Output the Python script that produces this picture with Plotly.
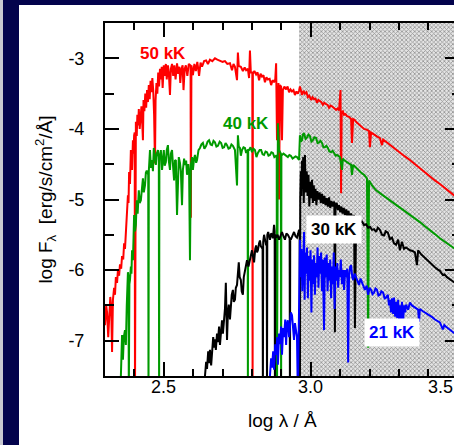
import plotly.graph_objects as go

# ---- data: log wavelength (Angstrom) vs log flux ----
RED_50KK = [
    (2.300, -6.78), (2.304, -6.50), (2.307, -6.60), (2.311, -6.95), (2.314, -6.70), (2.318, -6.38),
    (2.321, -6.52), (2.324, -7.16), (2.327, -6.42), (2.331, -6.25), (2.334, -6.35), (2.337, -6.10),
    (2.341, -6.18), (2.344, -6.00), (2.348, -6.08), (2.351, -5.92), (2.355, -5.98), (2.358, -5.80),
    (2.362, -5.85), (2.365, -5.62), (2.368, -5.70), (2.371, -5.50), (2.375, -5.29), (2.378, -4.94),
    (2.380, -5.05), (2.382, -4.61), (2.385, -4.78), (2.388, -4.30), (2.390, -4.45), (2.392, -4.58),
    (2.395, -4.16), (2.397, -4.35), (2.399, -4.09), (2.401, -4.05), (2.402, -7.8), (2.403, -4.05),
    (2.405, -3.90), (2.408, -4.10), (2.410, -3.80), (2.413, -3.95), (2.415, -3.72), (2.418, -4.00),
    (2.421, -3.78), (2.424, -3.68), (2.426, -3.85), (2.429, -4.16), (2.431, -3.59), (2.434, -3.75),
    (2.437, -3.50), (2.440, -3.70), (2.443, -3.45), (2.446, -3.62), (2.449, -3.38), (2.452, -3.58),
    (2.455, -3.32), (2.458, -3.48), (2.461, -3.28), (2.464, -3.45), (2.467, -3.80), (2.470, -4.49),
    (2.472, -3.60), (2.475, -3.35), (2.478, -3.50), (2.481, -3.20), (2.484, -3.40), (2.487, -3.15),
    (2.490, -3.30), (2.493, -3.12), (2.496, -3.42), (2.500, -3.10), (2.503, -3.25), (2.507, -3.08),
    (2.510, -3.30), (2.514, -3.10), (2.517, -3.20), (2.521, -3.52), (2.524, -3.15), (2.528, -3.08),
    (2.532, -3.25), (2.536, -3.10), (2.540, -3.30), (2.545, -3.07), (2.549, -3.22), (2.553, -3.12),
    (2.556, -3.35), (2.560, -3.15), (2.564, -3.10), (2.567, -3.45), (2.571, -3.15), (2.575, -3.10),
    (2.580, -3.25), (2.585, -3.08), (2.591, -3.10), (2.592, -5.26), (2.594, -3.10), (2.599, -3.24),
    (2.604, -3.08), (2.609, -3.18), (2.614, -3.05), (2.620, -3.25), (2.625, -3.06), (2.630, -3.12),
    (2.637, -3.04), (2.644, -3.03), (2.650, -3.08), (2.657, -3.02), (2.665, -3.04), (2.674, -3.00),
    (2.682, -3.02), (2.691, -3.03), (2.700, -3.05), (2.708, -3.04), (2.716, -3.08), (2.725, -3.07),
    (2.732, -3.17), (2.737, -3.08), (2.742, -3.12), (2.749, -3.31), (2.752, -2.92), (2.755, -3.11),
    (2.762, -3.12), (2.769, -3.18), (2.775, -3.13), (2.780, -3.17), (2.786, -3.15), (2.790, -3.28),
    (2.793, -2.89), (2.796, -3.20), (2.801, -3.20), (2.802, -7.8), (2.803, -3.22), (2.808, -3.18),
    (2.814, -3.23), (2.819, -3.20), (2.824, -3.31), (2.829, -3.22), (2.834, -3.26), (2.839, -3.24),
    (2.844, -3.34), (2.849, -3.27), (2.854, -3.30), (2.860, -3.29), (2.865, -3.38), (2.870, -3.31),
    (2.875, -3.34), (2.879, -3.30), (2.882, -3.07), (2.885, -4.16), (2.888, -3.45), (2.890, -3.35),
    (2.892, -5.00), (2.895, -3.38), (2.899, -3.40), (2.902, -4.16), (2.905, -3.45), (2.910, -3.40),
    (2.916, -3.44), (2.921, -3.40), (2.926, -3.48), (2.931, -3.44), (2.936, -3.47), (2.941, -3.45),
    (2.946, -3.52), (2.951, -3.47), (2.956, -3.50), (2.960, -3.46), (2.963, -3.40), (2.966, -3.48),
    (2.970, -3.52), (2.975, -3.46), (2.980, -3.50), (2.985, -3.48), (2.990, -3.55), (2.995, -3.53),
    (3.001, -3.59), (3.006, -3.55), (3.011, -3.58), (3.016, -3.57), (3.021, -3.63), (3.026, -3.59),
    (3.031, -3.61), (3.036, -3.62), (3.041, -3.66), (3.046, -3.63), (3.052, -3.65), (3.057, -3.66),
    (3.062, -3.70), (3.067, -3.67), (3.072, -3.68), (3.079, -3.70), (3.086, -3.73), (3.091, -3.71),
    (3.096, -3.74), (3.101, -3.45), (3.103, -4.91), (3.105, -3.76), (3.109, -3.75), (3.113, -3.80),
    (3.118, -3.79), (3.123, -3.82), (3.130, -3.83), (3.137, -3.86), (3.140, -4.20), (3.144, -3.86),
    (3.149, -3.87), (3.154, -3.90), (3.160, -3.92), (3.167, -3.95), (3.174, -3.97), (3.181, -4.00),
    (3.190, -4.01), (3.198, -4.03), (3.201, -4.26), (3.205, -4.05), (3.212, -4.07), (3.218, -4.09),
    (3.226, -4.11), (3.235, -4.13), (3.242, -4.23), (3.246, -4.15), (3.258, -4.19), (3.269, -4.23),
    (3.286, -4.29), (3.303, -4.34), (3.320, -4.39), (3.337, -4.44), (3.354, -4.50), (3.371, -4.56),
    (3.388, -4.62), (3.405, -4.67), (3.422, -4.73), (3.439, -4.78), (3.463, -4.86), (3.487, -4.94),
    (3.510, -4.98),
]

GREEN_40KK = [
    (2.354, -7.50), (2.358, -6.92), (2.361, -7.27), (2.364, -6.95), (2.368, -6.85), (2.371, -7.06),
    (2.374, -6.50), (2.378, -6.03), (2.380, -6.10), (2.381, -7.8), (2.383, -6.20), (2.385, -6.14),
    (2.388, -5.95), (2.390, -6.05), (2.392, -5.72), (2.395, -5.86), (2.397, -5.55), (2.399, -5.22),
    (2.402, -5.45), (2.405, -5.36), (2.408, -5.01), (2.411, -5.20), (2.415, -4.87), (2.418, -5.05),
    (2.422, -5.01), (2.425, -4.85), (2.429, -4.70), (2.432, -4.90), (2.436, -4.80), (2.439, -4.62),
    (2.442, -4.59), (2.447, -4.65), (2.448, -7.8), (2.449, -4.60), (2.453, -4.30), (2.456, -4.55),
    (2.460, -4.44), (2.463, -4.60), (2.466, -4.27), (2.470, -4.45), (2.473, -4.51), (2.476, -4.35),
    (2.480, -4.30), (2.483, -4.40), (2.484, -7.8), (2.485, -4.40), (2.487, -4.41), (2.490, -4.30),
    (2.494, -4.58), (2.497, -4.40), (2.500, -4.30), (2.503, -4.52), (2.507, -4.47), (2.510, -4.30),
    (2.514, -4.23), (2.517, -4.45), (2.521, -4.58), (2.524, -4.35), (2.528, -4.30), (2.531, -4.50),
    (2.535, -4.73), (2.538, -4.45), (2.541, -4.44), (2.545, -5.22), (2.548, -4.58), (2.551, -4.40),
    (2.555, -4.48), (2.558, -4.60), (2.562, -5.08), (2.565, -4.58), (2.569, -4.42), (2.572, -4.51),
    (2.576, -4.45), (2.579, -4.65), (2.583, -4.50), (2.586, -4.60), (2.589, -5.86), (2.592, -4.51),
    (2.596, -4.40), (2.599, -4.58), (2.603, -4.42), (2.606, -4.37), (2.610, -4.48), (2.613, -4.44),
    (2.618, -4.30), (2.623, -4.27), (2.628, -4.22), (2.633, -4.20), (2.638, -4.28), (2.644, -4.24),
    (2.649, -4.18), (2.654, -4.16), (2.659, -4.22), (2.664, -4.23), (2.669, -4.17), (2.674, -4.19),
    (2.679, -4.25), (2.684, -4.24), (2.690, -4.18), (2.695, -4.20), (2.700, -4.27), (2.705, -4.26),
    (2.710, -4.20), (2.715, -4.23), (2.720, -4.28), (2.725, -4.27), (2.730, -4.22), (2.735, -4.24),
    (2.742, -4.30), (2.749, -4.80), (2.752, -4.09), (2.755, -4.25), (2.759, -4.27), (2.762, -4.38),
    (2.766, -4.30), (2.771, -4.26), (2.776, -4.27), (2.780, -4.34), (2.785, -4.30), (2.786, -7.8),
    (2.787, -4.30), (2.790, -4.30), (2.795, -4.26), (2.800, -4.33), (2.805, -4.28), (2.810, -4.30),
    (2.815, -4.40), (2.820, -4.34), (2.826, -4.30), (2.831, -4.30), (2.836, -4.36), (2.841, -4.37),
    (2.846, -4.32), (2.851, -4.33), (2.856, -4.38), (2.861, -4.37), (2.866, -4.33), (2.871, -4.34),
    (2.876, -4.40), (2.882, -4.38), (2.884, -4.38), (2.885, -7.8), (2.886, -4.38), (2.888, -3.92),
    (2.892, -4.30), (2.898, -4.35), (2.899, -7.8), (2.900, -4.36), (2.902, -4.37), (2.907, -4.35),
    (2.912, -4.37), (2.917, -4.38), (2.922, -4.40), (2.927, -4.37), (2.932, -4.38), (2.938, -4.42),
    (2.943, -4.41), (2.948, -4.39), (2.953, -4.40), (2.960, -4.44), (2.963, -4.09), (2.966, -4.18),
    (2.970, -4.16), (2.973, -4.08), (2.977, -4.06), (2.982, -4.14), (2.987, -4.12), (2.992, -4.08),
    (2.997, -4.10), (3.002, -4.18), (3.007, -4.16), (3.012, -4.12), (3.018, -4.13), (3.023, -4.20),
    (3.028, -4.19), (3.033, -4.17), (3.038, -4.20), (3.043, -4.26), (3.048, -4.26), (3.053, -4.24),
    (3.058, -4.27), (3.063, -4.32), (3.069, -4.33), (3.074, -4.31), (3.079, -4.34), (3.084, -4.38),
    (3.089, -4.37), (3.094, -4.38), (3.099, -4.40), (3.106, -4.58), (3.109, -4.42), (3.113, -4.44),
    (3.118, -4.46), (3.123, -4.47), (3.130, -4.49), (3.137, -4.51), (3.140, -4.65), (3.144, -4.51),
    (3.149, -4.53), (3.154, -4.55), (3.160, -4.58), (3.167, -4.61), (3.174, -4.63), (3.181, -4.65),
    (3.191, -4.70), (3.195, -7.10), (3.198, -4.73), (3.208, -4.80), (3.215, -4.83), (3.222, -4.87),
    (3.235, -4.91), (3.252, -4.96), (3.269, -5.01), (3.286, -5.07), (3.303, -5.12), (3.320, -5.17),
    (3.337, -5.22), (3.354, -5.27), (3.371, -5.32), (3.388, -5.38), (3.405, -5.43), (3.422, -5.49),
    (3.439, -5.55), (3.463, -5.62), (3.487, -5.69), (3.510, -5.73),
]

BLACK_30KK = [
    (2.640, -7.50), (2.644, -7.30), (2.647, -7.40), (2.651, -7.15), (2.654, -7.32), (2.657, -7.13),
    (2.661, -7.35), (2.664, -7.20), (2.668, -6.95), (2.671, -7.10), (2.674, -6.98), (2.677, -7.13),
    (2.681, -6.90), (2.684, -7.02), (2.688, -6.80), (2.691, -7.06), (2.695, -6.85), (2.698, -6.71),
    (2.701, -6.90), (2.705, -6.75), (2.708, -6.55), (2.711, -6.18), (2.713, -6.70), (2.715, -6.99),
    (2.718, -6.60), (2.721, -6.49), (2.725, -6.70), (2.728, -6.55), (2.731, -6.35), (2.735, -6.28),
    (2.738, -6.45), (2.742, -6.42), (2.745, -6.25), (2.749, -6.21), (2.752, -6.05), (2.755, -5.89),
    (2.758, -6.10), (2.762, -6.14), (2.765, -6.30), (2.769, -6.35), (2.772, -6.10), (2.776, -6.00),
    (2.779, -5.92), (2.783, -5.86), (2.788, -5.95), (2.793, -5.84), (2.797, -5.78), (2.800, -5.72),
    (2.804, -5.82), (2.807, -5.89), (2.811, -5.70), (2.814, -5.65), (2.817, -5.75), (2.820, -5.72),
    (2.824, -5.62), (2.827, -5.58), (2.830, -5.66), (2.834, -5.69), (2.836, -5.70), (2.837, -7.8),
    (2.838, -5.60), (2.841, -5.50), (2.845, -5.60), (2.848, -5.65), (2.850, -5.60), (2.851, -7.8),
    (2.852, -5.50), (2.855, -5.46), (2.858, -5.55), (2.861, -5.57), (2.865, -5.48), (2.868, -5.50),
    (2.871, -5.55), (2.875, -5.36), (2.877, -5.45), (2.878, -7.8), (2.879, -5.50), (2.882, -5.54),
    (2.887, -5.50), (2.892, -5.57), (2.897, -5.50), (2.902, -5.46), (2.907, -5.52), (2.912, -5.57),
    (2.917, -5.48), (2.922, -5.50), (2.928, -5.55), (2.929, -7.8), (2.930, -5.55), (2.932, -5.57),
    (2.938, -5.50), (2.943, -5.46), (2.948, -5.52), (2.953, -5.54), (2.957, -5.48), (2.960, -5.43),
    (2.962, -5.50), (2.963, -7.8), (2.964, -5.00), (2.966, -4.60), (2.968, -4.95), (2.970, -4.45),
    (2.972, -4.85), (2.974, -4.40), (2.976, -5.05), (2.978, -4.55), (2.980, -4.37), (2.983, -4.90),
    (2.986, -4.60), (2.989, -4.95), (2.992, -4.65), (2.995, -5.10), (2.998, -4.75), (3.001, -4.98),
    (3.004, -4.72), (3.007, -5.05), (3.010, -4.80), (3.013, -5.02), (3.016, -4.85), (3.019, -5.08),
    (3.022, -4.88), (3.026, -5.00), (3.030, -4.90), (3.034, -5.05), (3.038, -4.92), (3.042, -5.06),
    (3.046, -4.95), (3.050, -5.08), (3.054, -4.98), (3.058, -5.10), (3.062, -4.97), (3.066, -5.12),
    (3.070, -5.02), (3.074, -5.10), (3.078, -5.03), (3.080, -5.05), (3.082, -6.88), (3.084, -5.08),
    (3.088, -5.05), (3.092, -5.15), (3.096, -5.08), (3.100, -5.18), (3.104, -5.10), (3.108, -5.20),
    (3.112, -5.12), (3.116, -5.22), (3.120, -5.14), (3.124, -5.24), (3.128, -5.16), (3.132, -5.26),
    (3.137, -5.20), (3.142, -5.27), (3.147, -5.22), (3.150, -6.82), (3.154, -5.29), (3.160, -5.28),
    (3.167, -5.32), (3.174, -5.31), (3.181, -5.36), (3.188, -5.35), (3.195, -5.40), (3.202, -5.39),
    (3.208, -5.43), (3.215, -5.42), (3.222, -5.46), (3.228, -5.40), (3.235, -5.43), (3.242, -5.50),
    (3.249, -5.51), (3.255, -5.45), (3.262, -5.47), (3.269, -5.56), (3.276, -5.54), (3.283, -5.62),
    (3.290, -5.64), (3.297, -5.57), (3.303, -5.72), (3.310, -5.60), (3.317, -5.70), (3.324, -5.68),
    (3.331, -5.70), (3.337, -5.72), (3.346, -5.73), (3.354, -5.75), (3.361, -5.93), (3.365, -5.72),
    (3.376, -5.78), (3.388, -5.83), (3.396, -5.86), (3.405, -5.89), (3.414, -5.93), (3.422, -5.96),
    (3.431, -5.99), (3.439, -6.01), (3.449, -6.07), (3.455, -6.06), (3.463, -6.10), (3.475, -6.13),
    (3.487, -6.17), (3.510, -6.21),
]

BLUE_21KK = [
    (2.861, -7.50), (2.865, -7.25), (2.868, -7.38), (2.872, -7.15), (2.875, -7.41), (2.879, -7.05),
    (2.882, -7.20), (2.886, -6.95), (2.888, -7.34), (2.892, -6.90), (2.895, -7.05), (2.899, -6.80),
    (2.902, -7.20), (2.906, -6.82), (2.909, -6.95), (2.913, -6.70), (2.916, -7.06), (2.919, -6.75),
    (2.922, -6.71), (2.926, -6.95), (2.929, -6.80), (2.932, -6.60), (2.936, -6.64), (2.939, -6.85),
    (2.943, -6.99), (2.946, -6.75), (2.950, -6.85), (2.953, -6.95), (2.956, -7.8), (2.960, -6.40),
    (2.963, -5.57), (2.966, -6.10), (2.968, -5.70), (2.971, -6.30), (2.974, -5.60), (2.977, -5.46),
    (2.979, -6.42), (2.981, -5.75), (2.984, -6.05), (2.987, -5.68), (2.990, -6.40), (2.993, -5.80),
    (2.996, -6.15), (2.999, -5.72), (3.002, -6.60), (3.005, -5.85), (3.008, -6.20), (3.011, -5.79),
    (3.014, -6.35), (3.017, -5.90), (3.020, -6.10), (3.023, -5.68), (3.026, -6.25), (3.029, -5.80),
    (3.032, -6.05), (3.035, -5.75), (3.038, -6.30), (3.041, -5.85), (3.045, -6.85), (3.048, -5.82),
    (3.051, -6.10), (3.054, -5.78), (3.057, -6.30), (3.060, -5.90), (3.063, -6.15), (3.066, -5.85),
    (3.069, -6.40), (3.072, -5.95), (3.075, -6.20), (3.078, -5.75), (3.081, -6.55), (3.084, -5.95),
    (3.087, -6.15), (3.090, -5.90), (3.093, -6.25), (3.096, -6.00), (3.099, -6.10), (3.102, -5.85),
    (3.106, -6.20), (3.110, -6.00), (3.113, -6.28), (3.117, -6.00), (3.120, -6.10), (3.124, -5.98),
    (3.127, -7.31), (3.130, -6.07), (3.134, -5.95), (3.137, -5.93), (3.141, -6.10), (3.144, -6.14),
    (3.149, -6.05), (3.154, -6.11), (3.159, -6.18), (3.164, -6.21), (3.169, -6.12), (3.174, -6.18),
    (3.179, -6.25), (3.184, -6.28), (3.190, -6.22), (3.195, -6.35), (3.200, -6.25), (3.205, -6.28),
    (3.210, -6.34), (3.215, -6.32), (3.220, -6.26), (3.225, -6.28), (3.230, -6.36), (3.235, -6.35),
    (3.240, -6.30), (3.246, -6.32), (3.251, -6.40), (3.256, -6.39), (3.262, -6.35), (3.266, -6.50),
    (3.269, -6.42), (3.273, -6.60), (3.276, -6.40), (3.280, -6.62), (3.283, -6.39), (3.287, -6.66),
    (3.290, -6.45), (3.294, -6.68), (3.297, -6.42), (3.300, -6.72), (3.303, -6.50), (3.307, -6.74),
    (3.310, -6.45), (3.314, -6.73), (3.317, -6.50), (3.321, -6.60), (3.324, -6.49), (3.331, -6.56),
    (3.337, -6.46), (3.344, -6.50), (3.351, -6.52), (3.358, -6.54), (3.365, -6.56), (3.368, -6.73),
    (3.371, -6.55), (3.380, -6.58), (3.388, -6.60), (3.396, -6.62), (3.405, -6.64), (3.414, -6.67),
    (3.422, -6.70), (3.431, -6.72), (3.439, -6.74), (3.449, -6.84), (3.454, -6.78), (3.459, -6.80),
    (3.466, -6.82), (3.473, -6.84), (3.480, -6.86), (3.487, -6.89), (3.510, -6.93),
]

SERIES_NAMES = ["50 kK", "40 kK", "30 kK", "21 kK"]
SERIES_COLORS = ["#ff0000", "#009a00", "#000000", "#0000ff"]

LYMAN_LIMIT = 2.96          # log(912 A), start of the shaded ionizing region
X_RANGE = [2.3, 3.487]
Y_RANGE = [-7.5, -2.5]
X_TICKS = [2.5, 3.0, 3.5]
Y_TICKS = [-7, -6, -5, -4, -3]

# label positions (data coordinates)
LABEL_X = [2.497, 2.78, 3.079, 3.276]
LABEL_Y = [-2.93, -3.93, -5.43, -6.89]

NAVY = "#03034c"
FONT = "Liberation Sans, Arial, sans-serif"

W, H, L, T, B = 454, 445, 105, 23, 69
PW, PH = W - L, H - T - B

fig = go.Figure()

# shaded region beyond the Lyman limit
fig.add_trace(go.Scatter(
    x=[LYMAN_LIMIT, 3.6, 3.6, LYMAN_LIMIT, LYMAN_LIMIT],
    y=[Y_RANGE[1], Y_RANGE[1], Y_RANGE[0], Y_RANGE[0], Y_RANGE[1]],
    mode="lines", fill="toself", line=dict(width=0),
    fillcolor="#c8c8c8",
    fillpattern=dict(shape="x", size=3, solidity=0.45, fgcolor="#929292", bgcolor="#e4e4e4",
                     fillmode="replace"),
    hoverinfo="skip", showlegend=False,
))

for name, data, color in zip(SERIES_NAMES, [RED_50KK, GREEN_40KK, BLACK_30KK, BLUE_21KK], SERIES_COLORS):
    xs = [p[0] for p in data]
    ys = [p[1] for p in data]
    fig.add_trace(go.Scatter(x=xs, y=ys, mode="lines", name=name,
                             line=dict(color=color, width=2), showlegend=False))

# dummy trace to activate the right-side tick axis
fig.add_trace(go.Scatter(x=[None], y=[None], yaxis="y2", showlegend=False, hoverinfo="skip"))

for name, lx, ly, color in zip(SERIES_NAMES, LABEL_X, LABEL_Y, SERIES_COLORS):
    boxed = name in ("30 kK", "21 kK")
    fig.add_annotation(x=lx, y=ly, xref="x", yref="y", text=f"<b>{name}</b>", showarrow=False,
                       font=dict(family=FONT, size=17, color=color),
                       bgcolor="white" if boxed else "rgba(0,0,0,0)", borderpad=4)

# x tick labels (the 3.5 tick lies just past the visible edge, so its label is pulled inside)
for v in X_TICKS:
    if v <= X_RANGE[1]:
        fig.add_annotation(x=v, y=0, xref="x", yref="paper", text=f"{v:.1f}", showarrow=False,
                           yanchor="middle", yshift=-11, font=dict(family=FONT, size=18, color="black"))
    else:
        fig.add_annotation(x=1, y=0, xref="paper", yref="paper", text=f"{v:.1f}", showarrow=False,
                           xanchor="right", yanchor="middle", yshift=-11, xshift=1,
                           font=dict(family=FONT, size=18, color="black"))


def px_x(p):
    return (p - L) / PW


def px_y(p):
    return (H - B - p) / PH


# x axis title
fig.add_annotation(x=px_x(282), y=0, xref="paper", yref="paper", text="log λ / Å",
                   showarrow=False, yanchor="middle", yshift=-44,
                   font=dict(family=FONT, size=19, color="black"))

# navy frame on the left and top
fig.add_shape(type="rect", xref="paper", yref="paper", x0=px_x(0), x1=px_x(W), y0=px_y(0), y1=px_y(5),
              fillcolor=NAVY, line=dict(width=0), layer="below")
fig.add_shape(type="rect", xref="paper", yref="paper", x0=px_x(0), x1=px_x(19), y0=px_y(0), y1=px_y(H),
              fillcolor=NAVY, line=dict(width=0), layer="below")
fig.add_shape(type="rect", xref="paper", yref="paper", x0=px_x(0), x1=px_x(3), y0=px_y(0), y1=px_y(H),
              fillcolor="#c8c8d0", line=dict(width=0), layer="below")

fig.update_layout(
    width=W, height=H,
    margin=dict(l=L, r=0, t=T, b=B),
    paper_bgcolor="white", plot_bgcolor="rgba(0,0,0,0)",
    font=dict(family=FONT, size=18, color="black"),
    xaxis=dict(
        range=X_RANGE, tickmode="array", tickvals=X_TICKS, showticklabels=False,
        ticks="inside", ticklen=14, tickwidth=2, tickcolor="black",
        showline=True, linewidth=2, linecolor="black", mirror="ticks",
        showgrid=False, zeroline=False,
        minor=dict(tickmode="linear", tick0=0, dtick=0.1, ticks="inside", ticklen=7,
                   tickwidth=2, tickcolor="black", showgrid=False),
    ),
    yaxis=dict(
        range=Y_RANGE, tickmode="array", tickvals=Y_TICKS, ticktext=[str(v) for v in Y_TICKS],
        ticks="inside", ticklen=14, tickwidth=2, tickcolor="black",
        showline=True, linewidth=2, linecolor="black",
        showgrid=False, zeroline=False,
        minor=dict(tickmode="linear", tick0=0, dtick=0.5, ticks="inside", ticklen=9,
                   tickwidth=2, tickcolor="black", showgrid=False),
        title=dict(text="log F<sub>λ</sub>  [erg/s/cm<sup>2</sup>/Å]", font=dict(size=19), standoff=11),
        tickfont=dict(size=18),
        ticklabelstandoff=15,
    ),
    yaxis2=dict(
        range=Y_RANGE, overlaying="y", side="right", tickmode="array", tickvals=Y_TICKS,
        showticklabels=False, ticks="inside", ticklen=9, tickwidth=2, tickcolor="black",
        showline=False, showgrid=False, zeroline=False,
        minor=dict(tickmode="linear", tick0=0, dtick=0.5, ticks="inside", ticklen=2,
                   tickwidth=2, tickcolor="black", showgrid=False),
    ),
)

fig.write_html("out.html")
